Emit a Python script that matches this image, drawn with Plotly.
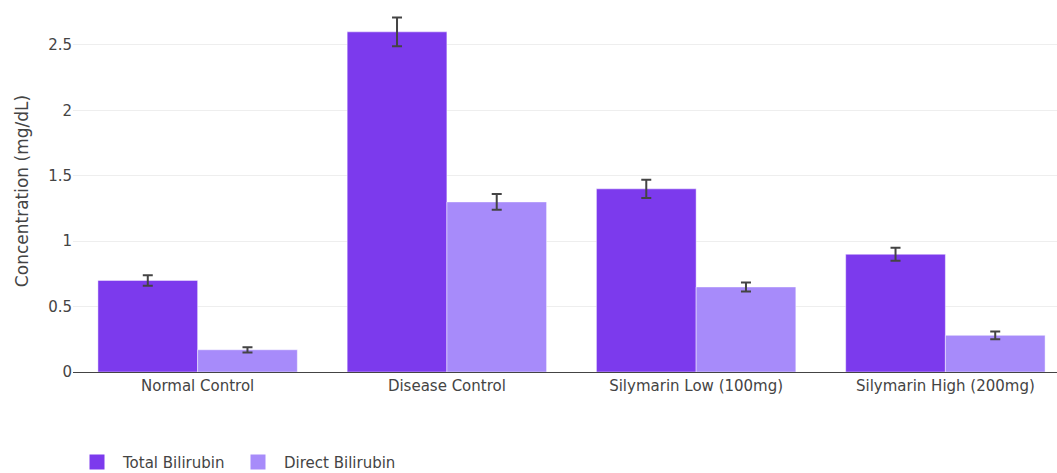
import plotly.graph_objects as go

groups = ["Normal Control", "Disease Control", "Silymarin Low (100mg)", "Silymarin High (200mg)"]
total_bilirubin = [0.70, 2.60, 1.40, 0.90]
total_err = [0.04, 0.11, 0.07, 0.05]
direct_bilirubin = [0.17, 1.30, 0.65, 0.28]
direct_err = [0.02, 0.06, 0.035, 0.03]

series = [
    ("Total Bilirubin", total_bilirubin, total_err, "#7c3aed", 104),
    ("Direct Bilirubin", direct_bilirubin, direct_err, "#a78bfa", 130),
]

FONT = "Verdana, DejaVu Sans, sans-serif"

fig = go.Figure()
for name, vals, errs, color, _ in series:
    fig.add_trace(go.Bar(
        name=name, x=groups, y=vals, legendgroup=name, showlegend=False,
        marker=dict(color=color, line=dict(color="rgba(255,255,255,0.45)", width=1)),
        error_y=dict(type="data", array=errs, visible=True, color="#444444", thickness=2, width=5),
    ))
# legend entries with a larger square swatch
for name, vals, errs, color, entry_w in series:
    fig.add_trace(go.Scatter(
        name=name, x=[None], y=[None], mode="markers", legendgroup=name,
        legendwidth=entry_w,
        marker=dict(symbol="square", size=15, color=color), hoverinfo="skip",
    ))

fig.update_layout(
    width=1100, height=500,
    margin=dict(l=73, r=30, t=10, b=128),
    barmode="group", bargap=0.2, bargroupgap=0,
    paper_bgcolor="white", plot_bgcolor="white",
    font=dict(family=FONT, size=15, color="#444444"),
    legend=dict(orientation="h", x=-0.002, xanchor="left", y=-0.204, yanchor="top",
                itemwidth=42, font=dict(size=15, color="#444444")),
    xaxis=dict(showline=True, linecolor="#444444", linewidth=1, showgrid=False,
               ticks="", tickfont=dict(size=15)),
    yaxis=dict(title=dict(text="Concentration (mg/dL)", font=dict(size=17)),
               range=[0, 2.767], showgrid=True, gridcolor="#eeeeee", gridwidth=1,
               zeroline=False, tickvals=[0, 0.5, 1, 1.5, 2, 2.5],
               ticktext=["0", "0.5", "1", "1.5", "2", "2.5"], tickfont=dict(size=15)),
)

fig.write_html("out.html")
